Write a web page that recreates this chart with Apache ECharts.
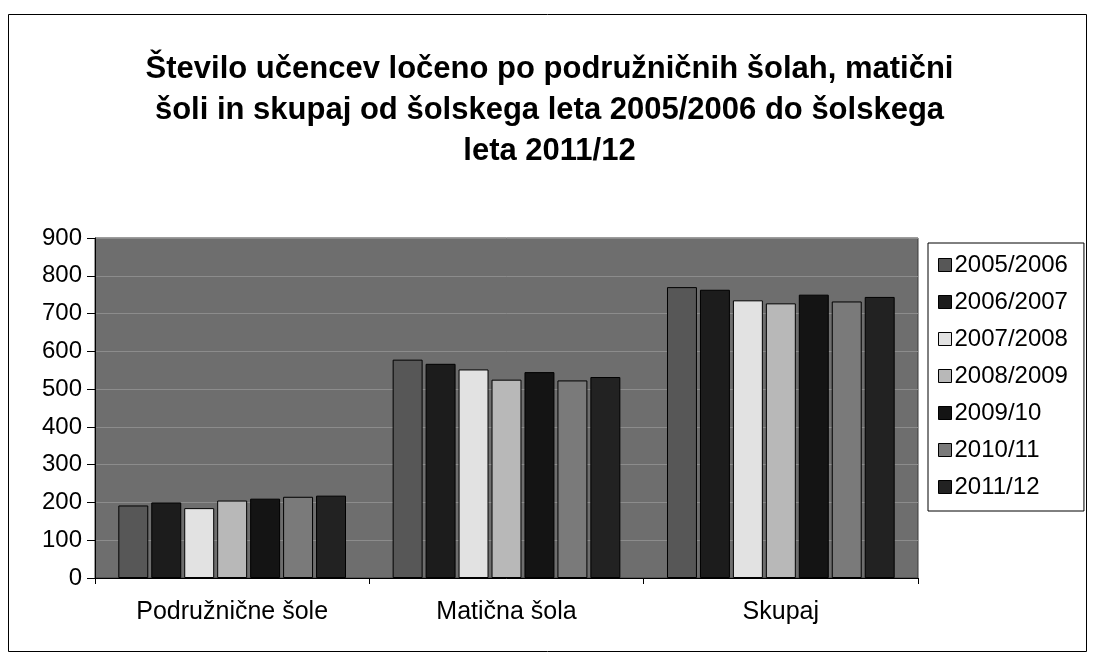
<!DOCTYPE html>
<html>
<head>
<meta charset="utf-8">
<script src="https://cdn.jsdelivr.net/npm/echarts@6/dist/echarts.min.js"></script>
<style>
  html, body { margin: 0; padding: 0; background: #fff; }
  #main { width: 1099px; height: 657px; }
</style>
</head>
<body>
<div id="main"></div>
<script>
// kategorije in leta
var categories = ['Podružnične šole', 'Matična šola', 'Skupaj'];
var years = ['2005/2006', '2006/2007', '2007/2008', '2008/2009', '2009/10', '2010/11', '2011/12'];

// število učencev po letih (podružnične, matična, skupaj)
var y2005 = [192, 578, 770];
var y2006 = [200, 567, 763];
var y2007 = [185, 552, 735];
var y2008 = [205, 525, 727];
var y2009 = [210, 545, 750];
var y2010 = [215, 523, 732];
var y2011 = [218, 532, 744];

var yTicks = [0, 100, 200, 300, 400, 500, 600, 700, 800, 900];

var seriesData = [y2005, y2006, y2007, y2008, y2009, y2010, y2011];
var colors = ['#575757', '#1c1c1c', '#e2e2e2', '#b8b8b8', '#141414', '#7a7a7a', '#222222'];

var chart = echarts.init(document.getElementById('main'), null, { renderer: 'canvas' });

var fontFam = '"Liberation Sans", Arial, sans-serif';

var series = years.map(function (y, i) {
  return {
    name: y,
    type: 'bar',
    data: seriesData[i],
    barGap: '10%',
    barCategoryGap: '17%',
    itemStyle: {
      color: colors[i],
      borderColor: '#000',
      borderWidth: 1
    }
  };
});

var option = {
  backgroundColor: '#fff',
  animation: false,
  title: {
    text: 'Število učencev ločeno po podružničnih šolah, matični\nšoli in skupaj od šolskega leta 2005/2006 do šolskega\nleta 2011/12',
    left: 'center',
    top: 44,
    textStyle: {
      fontFamily: fontFam,
      fontSize: 31,
      fontWeight: 'bold',
      color: '#000',
      lineHeight: 41,
      align: 'center'
    }
  },
  legend: {
    orient: 'vertical',
    left: 928,
    top: 243,
    padding: [10, 16, 12, 10],
    borderColor: '#000',
    borderWidth: 1,
    itemWidth: 13,
    itemHeight: 13,
    itemGap: 13,
    icon: 'rect',
    data: years,
    textStyle: {
      fontFamily: fontFam,
      fontSize: 24,
      color: '#000',
      lineHeight: 24,
      padding: [0, 0, 0, -2]
    },
    itemStyle: { borderColor: '#000', borderWidth: 1 }
  },
  grid: {
    show: true,
    left: 95,
    right: 181,
    top: 238,
    bottom: 79,
    backgroundColor: '#6e6e6e',
    borderColor: '#3a3a3a',
    borderWidth: 1
  },
  xAxis: {
    type: 'category',
    data: categories,
    axisLine: { lineStyle: { color: '#000', width: 1 } },
    axisTick: { show: true, length: 6, lineStyle: { color: '#000' } },
    axisLabel: {
      fontFamily: fontFam,
      fontSize: 25,
      color: '#000',
      margin: 22
    }
  },
  yAxis: {
    type: 'value',
    min: 0,
    max: 900,
    interval: 100,
    axisLine: { show: true, lineStyle: { color: '#000', width: 1 } },
    axisTick: { show: true, length: 8, lineStyle: { color: '#000' } },
    splitLine: { show: true, lineStyle: { color: '#8c8c8c', width: 1 } },
    axisLabel: {
      fontFamily: fontFam,
      fontSize: 24,
      color: '#000',
      margin: 13,
      formatter: function (v) { return yTicks.indexOf(v) >= 0 ? String(v) : ''; }
    }
  },
  graphic: [{
    type: 'rect',
    shape: { x: 8.5, y: 14.5, width: 1078, height: 637 },
    style: { fill: 'none', stroke: '#000', lineWidth: 1 },
    silent: true
  }],
  series: series
};

chart.setOption(option);
</script>
</body>
</html>
